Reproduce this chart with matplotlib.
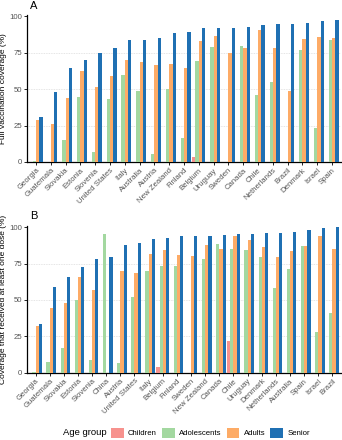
import numpy as np
import matplotlib
matplotlib.use("Agg")
import matplotlib.pyplot as plt
from matplotlib.patches import Patch

plt.rcParams['font.family'] = ['Liberation Sans', 'DejaVu Sans']

# ---- data ----
groups = ["Children", "Adolescents", "Adults", "Senior"]
colors = ["#F7928E", "#A3D8A0", "#FDAB66", "#1F70B3"]

countries_a = ["Georgia", "Guatemala", "Slovakia", "Estonia", "Slovenia", "United States",
               "Italy", "Australia", "Austria", "New Zealand", "Finland", "Belgium",
               "Uruguay", "Sweden", "Canada", "Chile", "Netherlands", "Brazil",
               "Denmark", "Israel", "Spain"]
children_a = [0, 0, 0, 0, 0, 0, 0, 0, 0, 0, 0, 3.5, 0, 0, 0, 0, 0, 0, 0, 0, 0]
adolescents_a = [0.5, 0, 15, 44.3, 6.8, 43.4, 60, 49, 5.5, 49.8, 16.1, 69.5,
                 79.3, 0, 80, 46.1, 55, 0, 76.6, 23.4, 83.6]
adults_a = [28.6, 25.9, 44, 62.3, 51.6, 58.9, 70, 68.9, 66.4, 67.3, 64.3, 83.2,
            86.8, 75, 78.6, 90.9, 78, 48.4, 84.5, 86.1, 85.5]
senior_a = [30.7, 48, 64.3, 70.2, 74.8, 78.4, 83.6, 83.6, 85.5, 88.9, 89.3, 91.8,
            91.8, 91.8, 92.7, 94.1, 94.5, 95, 95.5, 96.6, 97.5]

countries_b = ["Georgia", "Guatemala", "Slovakia", "Estonia", "Slovenia", "China",
               "Austria", "United States", "Italy", "Belgium", "Finland", "Sweden",
               "New Zealand", "Canada", "Chile", "Uruguay", "Denmark", "Netherlands",
               "Australia", "Spain", "Israel", "Brazil"]
children_b = [0, 0, 0, 0, 0, 0, 0, 0, 0, 4, 0, 0, 0, 0, 21.5, 0, 0, 0, 0, 0, 0, 0]
adolescents_b = [0.5, 7.3, 16.8, 49.9, 8.6, 95.2, 6.6, 52.2, 70, 73, 73.3, 0,
                 78, 88.2, 84.8, 84.4, 79.8, 58.5, 71.2, 87.3, 27.7, 41.3]
adults_b = [32.4, 44.2, 47.6, 66, 57.1, 0, 70, 68.3, 81.4, 84.4, 80.8, 80.5,
            87.5, 84.8, 93.9, 91.4, 86.2, 79.8, 83.9, 87.3, 93.7, 84.8]
senior_b = [33.3, 59, 66, 72.8, 78.2, 79.6, 87.8, 88.9, 91.6, 92.7, 93.7, 93.9,
            93.9, 94.8, 95, 95.5, 95.7, 96.1, 96.4, 98.2, 99.3, 100]


def draw_panel(ax, countries, series, ylabel, tag):
    x = np.arange(len(countries))
    width = 0.225
    offsets = [-1.5, -0.5, 0.5, 1.5]
    for vals, col, off in zip(series, colors, offsets):
        ax.bar(x + off * width, vals, width, color=col, linewidth=0, zorder=3)
    for yv in [25, 50, 75]:
        ax.axhline(yv, color="#DCDCDC", lw=0.6, ls=(0, (1, 1)), zorder=1)
    ax.set_xlim(-0.6, len(countries) - 0.4)
    ax.set_ylim(0, 101)
    ax.set_yticks([0, 25, 50, 75, 100])
    ax.set_xticks(x)
    ax.set_xticklabels(countries, rotation=45, ha="right", rotation_mode="anchor")
    ax.tick_params(axis="both", labelsize=5.6, labelcolor="#555555",
                   length=2, width=0.6, pad=1.5)
    for s in ["top", "right"]:
        ax.spines[s].set_visible(False)
    for s in ["left", "bottom"]:
        ax.spines[s].set_linewidth(0.9)
    ax.set_ylabel(ylabel, fontsize=6.0, labelpad=1.5)
    ax.text(0.01, 1.03, tag, transform=ax.transAxes, fontsize=8, va="bottom")


fig = plt.figure(figsize=(3.42, 4.40), dpi=100)
ax_a = fig.add_axes([0.079, 0.632, 0.918, 0.334])
ax_b = fig.add_axes([0.079, 0.153, 0.918, 0.334])

draw_panel(ax_a, countries_a, [children_a, adolescents_a, adults_a, senior_a],
           "Full vaccination coverage (%)", "A")
draw_panel(ax_b, countries_b, [children_b, adolescents_b, adults_b, senior_b],
           "Coverage that received at least one dose (%)", "B")

handles = [Patch(facecolor=c, edgecolor="none") for c in colors]
fig.text(0.185, 0.016, "Age group", fontsize=6.8, va="center")
fig.legend(handles, groups, loc="center left", bbox_to_anchor=(0.315, 0.016),
           ncol=4, frameon=False, fontsize=5.6, handlelength=1.65, handleheight=1.65,
           handletextpad=0.55, columnspacing=0.65, borderaxespad=0)

fig.savefig("out.png", dpi=100)
